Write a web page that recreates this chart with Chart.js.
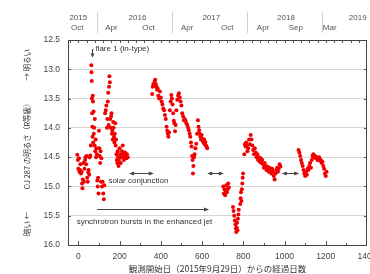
<!DOCTYPE html>
<html><head><meta charset="utf-8">
<script src="https://cdn.jsdelivr.net/npm/chart.js@4"></script>
<style>html,body{margin:0;padding:0;background:#fff}#wrap{width:370px;height:274px;position:relative}</style>
</head><body><div id="wrap"><canvas id="c" width="370" height="274"></canvas></div>
<script>
// ---- data (days since 2015-09-29, R magnitude) ----
const season1Days = [-5,-2,0,3,5,8,10,13,16,18,20,22,25,27,30,33,35,38,40,43,46,48,50,53,55,58,
  61,63,64,65,66,67,68,69,70,71,72,74,75,77,79,80,82,84,86,88,90,92,94,96,98,100,102,104,106,108,110,112,115,118,121,124,126,
  130,133,136,139,141,143,145,147,149,151,153,155,157,159,161,163,165,167,169,171,173,175,177,179,181,183,185,187,189,191,193,195,197,200,203,206,209,212,215,218,221,224,227,230,233,236,240];
const season1Mags = [14.46,14.55,14.70,14.52,14.75,14.72,14.62,14.78,14.75,14.95,15.03,14.88,14.60,14.92,14.70,14.55,14.50,14.62,14.48,14.85,14.92,14.76,14.72,14.80,14.50,14.47,
  14.30,12.93,13.05,13.20,13.50,13.75,13.98,14.15,13.45,13.55,14.25,13.72,14.10,14.00,14.30,13.85,14.40,14.20,14.50,14.35,14.45,14.90,15.00,14.85,15.12,14.05,14.35,14.48,14.60,14.40,14.92,14.52,15.00,14.92,15.12,15.22,14.98,
  13.75,13.70,13.62,14.00,13.85,13.55,13.40,13.95,13.30,13.12,13.22,13.85,14.00,13.80,13.75,14.10,14.05,14.20,13.90,14.00,14.15,14.25,14.10,13.92,14.30,14.20,14.45,14.55,14.60,14.40,14.50,14.65,14.55,14.35,14.45,14.60,14.50,14.40,14.30,14.45,14.55,14.50,14.42,14.48,14.52,14.45,14.50];
const season2Days = [358,361,364,367,370,373,376,379,382,385,388,392,396,400,404,408,412,416,420,424,428,431,434,437,440,444,448,451,454,457,460,463,466,469,472,476,480,484,488,492,496,500,504,508,512,516,520,524,528,532,536,540,543,546,549,552,554,556,558,561,564,568,572,576,580,583,586,589,592,595,598,601,604,607,610,613,616,619,622,625];
const season2Mags = [13.42,13.30,13.25,13.28,13.20,13.18,13.25,13.30,13.35,13.33,13.45,13.50,13.38,13.48,13.55,13.60,13.67,13.70,13.78,13.85,13.98,14.05,14.10,14.15,14.08,13.70,13.55,13.44,13.50,13.60,13.75,13.88,13.92,14.06,13.95,13.70,13.52,13.45,13.41,13.48,13.55,13.62,13.75,13.80,13.87,13.85,13.88,13.92,13.95,14.00,14.04,14.10,14.15,14.25,14.32,14.48,14.55,14.78,14.65,14.50,14.45,14.35,14.27,14.10,13.87,13.98,14.04,14.10,14.15,14.20,14.12,14.18,14.22,14.25,14.20,14.28,14.24,14.30,14.32,14.35];
const season3Days = [703,706,709,712,715,718,721,724,727,730,
  750,753,756,759,762,764,766,768,770,772,774,776,778,785,787,789,791,793,795,797,799,
  805,808,811,814,817,820,824,828,832,836,840,844,848,852,856,860,864,868,872,876,880,884,888,892,896,900,904,908,912,916,920,924,928,932,936,940,944,948,952,956,960,964,968,972,976,980];
const season3Mags = [15.00,15.12,15.05,15.15,15.08,14.98,15.10,15.05,14.95,15.02,
  15.35,15.42,15.50,15.58,15.65,15.72,15.78,15.70,15.62,15.75,15.55,15.48,15.40,15.30,15.20,15.10,15.25,15.05,14.95,14.85,14.78,
  14.45,14.28,14.32,14.25,14.30,14.40,14.35,14.20,14.28,14.12,14.20,14.30,14.38,14.45,14.35,14.42,14.50,14.45,14.55,14.50,14.58,14.52,14.60,14.55,14.62,14.68,14.60,14.65,14.72,14.66,14.70,14.75,14.68,14.72,14.78,14.70,14.75,14.82,14.88,14.78,14.72,14.68,14.75,14.70,14.62,14.66];
const season4Days = [1068,1072,1076,1080,1084,1088,1092,1096,1100,1104,1108,1112,1116,1120,1124,1128,1132,1136,1140,1144,1148,1152,1156,1160,1164,1168,1172,1176,1180,1184,1188,1192,1196,1200,1204];
const season4Mags = [14.38,14.42,14.48,14.55,14.60,14.65,14.72,14.78,14.82,14.75,14.80,14.70,14.72,14.65,14.60,14.68,14.55,14.48,14.45,14.50,14.48,14.52,14.50,14.55,14.52,14.50,14.56,14.55,14.60,14.58,14.65,14.70,14.78,14.82,14.75];

// ---- axis / tick labels ----
const xTickValues = [0,200,400,600,800,1000,1200,1400];
const yTickValues = [12.5,13.0,13.5,14.0,14.5,15.0,15.5,16.0];
const monthLabels = ['Oct','Apr','Oct','Apr','Oct','Apr','Sep','Mar'];
const monthDays = [-5,161,340,528,722,896,1055,1219];
const yearLabels = ['2015','2016','2017','2018','2019'];
const yearDays = [0,287,645,1007,1355];
const yearSepDays = [93,456,819,1181];

// ---- annotations (data coordinates) ----
const conjStartDays = [246,625,987];
const conjEndDays = [366,706,1071];
const conjMag = 14.775;
const burstStartDay = 91, burstEndDay = 634, burstMag = 15.39;

const allDays = [].concat(season1Days, season2Days, season3Days, season4Days);
const allMags = [].concat(season1Mags, season2Mags, season3Mags, season4Mags);
const points = allDays.map((d, i) => ({x: d, y: allMags[i]}));

const LAT = '"Liberation Sans", Arial, sans-serif';
const CJK = '"Noto Sans CJK JP", sans-serif';

function arrowHead(ctx, x, y, dir) {
  ctx.beginPath();
  if (dir === 2) { ctx.moveTo(x, y); ctx.lineTo(x - 2, y - 4); ctx.lineTo(x + 2, y - 4); }
  else { ctx.moveTo(x, y); ctx.lineTo(x - dir * 5, y - 2); ctx.lineTo(x - dir * 5, y + 2); }
  ctx.closePath(); ctx.fill();
}

const decor = {
  id: 'decor',
  afterDraw(chart) {
    const {ctx, chartArea: a} = chart;
    const x = chart.scales.x, y = chart.scales.y;
    ctx.save();
    ctx.strokeStyle = '#555'; ctx.lineWidth = 1;
    ctx.beginPath();
    for (let d = -40; d <= 1400; d += 40) {
      const px = Math.round(x.getPixelForValue(d)) + 0.5;
      if (px > a.left + 1 && px < a.right - 1) { ctx.moveTo(px, a.top); ctx.lineTo(px, a.top + 3); }
    }
    for (let d = 0; d <= 1400; d += 100) {
      const px = Math.round(x.getPixelForValue(d)) + 0.5;
      if (px > a.left + 1 && px < a.right - 1) { ctx.moveTo(px, a.bottom); ctx.lineTo(px, a.bottom - (d % 200 === 0 ? 4 : 2)); }
    }
    for (const v of yTickValues) {
      const py = Math.round(y.getPixelForValue(v)) + 0.5;
      ctx.moveTo(a.left, py); ctx.lineTo(a.left + 3, py);
      ctx.moveTo(a.right, py); ctx.lineTo(a.right - 3, py);
    }
    ctx.stroke();
    ctx.strokeStyle = '#444';
    ctx.strokeRect(Math.round(a.left) + 0.5, Math.round(a.top) + 0.5, Math.round(a.right - a.left) - 1, Math.round(a.bottom - a.top));

    ctx.strokeStyle = '#d0d0d0';
    ctx.beginPath();
    for (const d of yearSepDays) {
      const px = Math.round(x.getPixelForValue(d)) + 0.5;
      ctx.moveTo(px, 12); ctx.lineTo(px, 33);
    }
    ctx.stroke();
    ctx.fillStyle = '#555';
    ctx.font = '8px ' + LAT;
    ctx.textAlign = 'center'; ctx.textBaseline = 'middle';
    yearLabels.forEach((t, i) => ctx.fillText(t, x.getPixelForValue(yearDays[i]), 18));
    monthLabels.forEach((t, i) => ctx.fillText(t, x.getPixelForValue(monthDays[i]), 27.5));

    ctx.strokeStyle = '#444'; ctx.fillStyle = '#444';
    ctx.font = '8px ' + LAT;
    ctx.textAlign = 'left';
    const fx = Math.round(x.getPixelForValue(64)) + 0.5;
    const fy = y.getPixelForValue(12.66);
    const fyb = y.getPixelForValue(12.80);
    ctx.beginPath();
    ctx.moveTo(x.getPixelForValue(74), fy); ctx.lineTo(fx, fy); ctx.lineTo(fx, fyb - 3);
    ctx.stroke();
    arrowHead(ctx, fx, fyb, 2);
    ctx.fillStyle = '#333';
    ctx.fillText('flare 1 (in-type)', x.getPixelForValue(83), y.getPixelForValue(12.655));
    ctx.fillStyle = '#444';
    const cy = Math.round(y.getPixelForValue(conjMag)) + 0.5;
    conjStartDays.forEach((s, i) => {
      const x1 = x.getPixelForValue(s), x2 = x.getPixelForValue(conjEndDays[i]);
      ctx.beginPath(); ctx.moveTo(x1 + 3, cy); ctx.lineTo(x2 - 3, cy); ctx.stroke();
      arrowHead(ctx, x1, cy, -1); arrowHead(ctx, x2, cy, 1);
    });
    ctx.fillStyle = '#333';
    ctx.fillText('solar conjunction', x.getPixelForValue(146), y.getPixelForValue(14.9));
    ctx.fillStyle = '#444';
    const by = Math.round(y.getPixelForValue(burstMag)) + 0.5;
    const bx1 = x.getPixelForValue(burstStartDay), bx2 = x.getPixelForValue(burstEndDay);
    ctx.beginPath(); ctx.moveTo(bx1, by); ctx.lineTo(bx2 - 3, by); ctx.stroke();
    arrowHead(ctx, bx2, by, 1);
    ctx.fillStyle = '#333';
    ctx.fillText('synchrotron bursts in the enhanced jet', x.getPixelForValue(-8), y.getPixelForValue(15.61));
    ctx.restore();
  }
};

new Chart(document.getElementById('c'), {
  type: 'scatter',
  data: { datasets: [{
    data: points,
    backgroundColor: '#f00000',
    borderWidth: 0,
    pointRadius: 2,
    pointHoverRadius: 2
  }]},
  options: {
    responsive: false,
    animation: false,
    devicePixelRatio: 1,
    layout: { padding: { top: 40, right: 3, left: 0, bottom: 0 } },
    plugins: { legend: { display: false }, tooltip: { enabled: false } },
    scales: {
      x: {
        type: 'linear', position: 'bottom', min: -50, max: 1400,
        afterBuildTicks: s => { s.ticks = xTickValues.map(v => ({value: v})); },
        afterFit: s => { s.height = 29; s.paddingLeft = 0; s.paddingRight = 0; },
        grid: { display: false, drawTicks: false },
        border: { display: false },
        ticks: { autoSkip: false, maxRotation: 0, padding: 7, color: '#444', font: { family: LAT, size: 8.5 }, callback: v => String(v) },
        title: { display: true, text: '観測開始日（2015年9月29日）からの経過日数', color: '#333', font: { family: CJK, size: 8.5 }, padding: { top: 0, bottom: 0 } }
      },
      y: {
        type: 'linear', reverse: true, min: 12.5, max: 16.0,
        afterBuildTicks: s => { s.ticks = yTickValues.map(v => ({value: v})); },
        afterFit: s => { s.width = 68; s.paddingTop = 0; s.paddingBottom = 0; },
        grid: { color: '#d6d6d6', drawTicks: false },
        border: { display: false },
        ticks: { padding: 8, color: '#444', font: { family: LAT, size: 8.5 }, callback: v => Number(v).toFixed(1) },
        title: { display: true, text: '暗い ←　　　OJ 287 の明るさ（R等級）　　　→ 明るい', color: '#333', font: { family: CJK, size: 7.5 }, padding: { top: 23, bottom: 0 } }
      }
    }
  },
  plugins: [decor]
});
</script></body></html>
